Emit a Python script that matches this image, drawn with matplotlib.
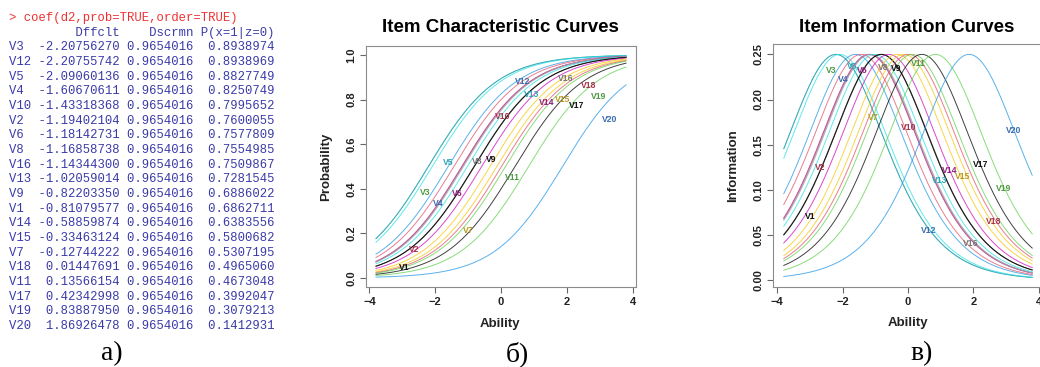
import numpy as np
import matplotlib
matplotlib.use('Agg')
import matplotlib.pyplot as plt

# coef(d2, prob=TRUE, order=TRUE) output
items = ['V3', 'V12', 'V5', 'V4', 'V10', 'V2', 'V6', 'V8', 'V16', 'V13',
         'V9', 'V1', 'V14', 'V15', 'V7', 'V18', 'V11', 'V17', 'V19', 'V20']
dffclt = [-2.20756270, -2.20755742, -2.09060136, -1.60670611, -1.43318368,
          -1.19402104, -1.18142731, -1.16858738, -1.14344300, -1.02059014,
          -0.82203350, -0.81079577, -0.58859874, -0.33463124, -0.12744222,
          0.01447691, 0.13566154, 0.42342998, 0.83887950, 1.86926478]
dscrmn = [0.9654016] * 20
prob = [0.8938974, 0.8938969, 0.8827749, 0.8250749, 0.7995652,
        0.7600055, 0.7577809, 0.7554985, 0.7509867, 0.7281545,
        0.6886022, 0.6862711, 0.6383556, 0.5800682, 0.5307195,
        0.4965060, 0.4673048, 0.3992047, 0.3079213, 0.1412931]

# R default palette, used as col = 1:20
r_pal = ['#000000', '#DF536B', '#61D04F', '#2297E6',
         '#28E2E5', '#CD0BBC', '#F5C710', '#9E9E9E']
lab_pal = ['#111111', '#A8324A', '#4E9A40', '#3A6DB0',
           '#2FA5B5', '#93207F', '#B79A1C', '#777777']

# where the item labels sit (data coords)
icc_lab = {'V12': (0.66, 0.883), 'V16': (1.98, 0.894), 'V18': (2.65, 0.864),
           'V19': (2.97, 0.813), 'V13': (0.93, 0.822), 'V14': (1.40, 0.788),
           'V15': (1.88, 0.800), 'V17': (2.30, 0.772), 'V20': (3.29, 0.712),
           'V10': (0.05, 0.723), 'V5': (-1.62, 0.520), 'V8': (-0.71, 0.522),
           'V9': (-0.30, 0.530), 'V11': (0.36, 0.450), 'V3': (-2.31, 0.383),
           'V4': (-1.92, 0.333), 'V6': (-1.32, 0.377), 'V7': (-1.01, 0.215),
           'V2': (-2.63, 0.126), 'V1': (-2.94, 0.048)}
iic_lab = {'V3': (-2.36, 0.232), 'V5': (-1.72, 0.237), 'V4': (-1.98, 0.222),
           'V6': (-1.39, 0.232), 'V8': (-0.77, 0.236), 'V9': (-0.37, 0.234),
           'V11': (0.32, 0.240), 'V7': (-1.06, 0.180), 'V10': (0.01, 0.169),
           'V20': (3.22, 0.166), 'V2': (-2.69, 0.125), 'V14': (1.27, 0.122),
           'V17': (2.22, 0.128), 'V15': (1.68, 0.115), 'V13': (0.98, 0.110),
           'V19': (2.92, 0.101), 'V1': (-3.00, 0.070), 'V18': (2.61, 0.065),
           'V12': (0.62, 0.055), 'V16': (1.92, 0.041)}

plt.rcParams['font.family'] = ['Liberation Sans', 'DejaVu Sans']

W, H = 1040, 367
fig = plt.figure(figsize=(W / 100, H / 100), dpi=100)


def fx(px):
    return px / W


def fy(py):
    return 1 - py / H


# ---- panel a: console text
mono = dict(family='Liberation Mono', fontsize=8.8, va='center', ha='left')
lines = ['> coef(d2,prob=TRUE,order=TRUE)',
         ' ' * 9 + 'Dffclt' + ' ' * 4 + 'Dscrmn' + ' P(x=1|z=0)']
for name, d, a, p in zip(items, dffclt, dscrmn, prob):
    lines.append(f'{name:<3} {d:11.8f} {a:.7f}  {p:.7f}')
for i, ln in enumerate(lines):
    col = '#F03030' if i == 0 else '#3A3AA8'
    fig.text(fx(9), fy(18 + i * 14.67), ln, color=col, **mono)

# ---- curves
theta = np.linspace(-3.8, 3.8, 200)

ax1 = fig.add_axes([fx(366), fy(287), fx(636) - fx(366), fy(46) - fy(287)])
ax2 = fig.add_axes([fx(773), fy(287), fx(1042) - fx(773), fy(44) - fy(287)])

for name, b, a in zip(items, dffclt, dscrmn):
    k = int(name[1:]) - 1
    p = 1 / (1 + np.exp(-a * (theta - b)))
    ax1.plot(theta, p, color=r_pal[k % 8], lw=0.7, alpha=0.75)
    ax2.plot(theta, p * (1 - p), color=r_pal[k % 8], lw=0.7, alpha=0.75)

lab_kw = dict(fontsize=6.2, fontweight='bold', ha='center', va='center')
for name in items:
    k = int(name[1:]) - 1
    ax1.text(*icc_lab[name], name, color=lab_pal[k % 8], **lab_kw)
    ax2.text(*iic_lab[name], name, color=lab_pal[k % 8], **lab_kw)

ax1.set_xlim(-4.104, 4.104)
ax1.set_ylim(-0.04, 1.04)
ax1.set_xticks([-4, -2, 0, 2, 4])
ax1.set_yticks([0, 0.2, 0.4, 0.6, 0.8, 1.0])
ax1.set_yticklabels(['0.0', '0.2', '0.4', '0.6', '0.8', '1.0'])

ax2.set_xlim(-4.13, 4.10)
ax2.set_ylim(-0.0075, 0.2615)
ax2.set_xticks([-4, -2, 0, 2, 4])
ax2.set_yticks([0, 0.05, 0.10, 0.15, 0.20, 0.25])
ax2.set_yticklabels(['0.00', '0.05', '0.10', '0.15', '0.20', '0.25'])

for ax, ylab in [(ax1, 'Probability'), (ax2, 'Information')]:
    for s in ax.spines.values():
        s.set_color('#8C8C8C')
        s.set_linewidth(0.8)
    ax.tick_params(direction='out', length=4, width=0.8, color='#666666',
                   labelsize=8, pad=3)
    for t in ax.get_xticklabels() + ax.get_yticklabels():
        t.set_fontweight('bold')
        t.set_color('#222222')
    for t in ax.get_yticklabels():
        t.set_rotation(90)
        t.set_va('center')
    ax.set_xlabel('Ability', fontsize=9.5, fontweight='bold', color='#222222')
    ax.set_ylabel(ylab, fontsize=9.5, fontweight='bold', color='#222222')

ax1.xaxis.set_label_coords(0.496, -0.129)
ax1.yaxis.set_label_coords(-0.126, 0.5)
ax2.xaxis.set_label_coords(0.50, -0.123)
ax2.yaxis.set_label_coords(-0.125, 0.5)

title_kw = dict(fontsize=13.5, fontweight='bold', ha='center', va='center')
fig.text(fx(500), fy(28), 'Item Characteristic Curves', **title_kw)
fig.text(fx(907), fy(27), 'Item Information Curves', **title_kw)

# panel captions
cap_kw = dict(family='Liberation Serif', fontsize=20, ha='center', va='center')
fig.text(fx(112), fy(354), 'а)', **cap_kw)
fig.text(fx(517), fy(354), 'б)', **cap_kw)
fig.text(fx(922), fy(354), 'в)', **cap_kw)

fig.savefig('out.png', dpi=100)
